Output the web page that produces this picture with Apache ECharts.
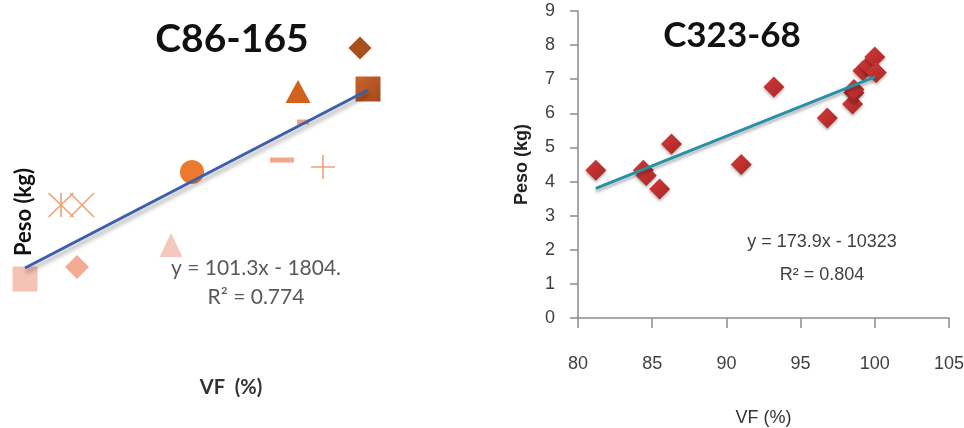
<!DOCTYPE html>
<html>
<head>
<meta charset="utf-8">
<script src="https://cdn.jsdelivr.net/npm/echarts@6/dist/echarts.min.js"></script>
<style>html,body{margin:0;padding:0;background:#fff}#c{width:964px;height:428px}</style>
</head>
<body>
<div id="c"></div>
<script>
// ---- Left panel: C86-165 (no visible axes; values in hidden-axis units) ----
var leftNames = ['a','b','c','d','e','f','g','h','i','j','k','l'];
var leftVF   = [1.5, 6.7, 5.1, 7.2, 16.1, 18.2, 27.2, 31.3, 29.3, 28.8, 35.8, 35.0];
var leftPeso = [4.1, 5.3, 11.5, 11.5, 7.5, 14.8, 16.0, 15.3, 19.8, 22.85, 23.1, 27.2];
var leftTrendVF = [1.5, 35.8];
var leftTrendPeso = [5.2, 23.0];

// ---- Right panel: C323-68 ----
var rightVF   = [81.2, 84.4, 84.6, 85.5, 86.3, 91.0, 93.2, 96.8, 98.5, 98.6, 98.6, 99.2, 99.6, 100.0, 100.1];
var rightPeso = [4.33, 4.33, 4.18, 3.78, 5.1, 4.5, 6.77, 5.86, 6.27, 6.6, 6.7, 7.25, 7.4, 7.65, 7.2];
var rightTrendVF = [81.2, 100.0];
var rightTrendPeso = [3.8, 7.07];
var rightXTicks = [80, 85, 90, 95, 100, 105];
var rightYTicks = [0, 1, 2, 3, 4, 5, 6, 7, 8, 9];

// marker styles for left panel (one per point)
function grad(c1, c2){ return new echarts.graphic.LinearGradient(0,0,1,1,[{offset:0,color:c1},{offset:1,color:c2}]); }
var leftStyles = [
  {symbol:'rect', size:25, color:'#f5c3b6'},
  {symbol:'diamond', size:24, color:'#f2aa94'},
  {symbol:'path://M0,0 L10,10 M10,0 L0,10 M5,0 L5,10', size:[25,24], stroke:'#f0a276'},
  {symbol:'path://M0,0 L10,10 M10,0 L0,10', size:[24,24], stroke:'#f0a276'},
  {symbol:'triangle', size:[23,24], color:'#f5c7bd'},
  {symbol:'circle', size:24, color:'#ec7a2e'},
  {symbol:'rect', size:[24,5], color:'#f4a68a'},
  {symbol:'path://M0,5 L10,5 M5,0 L5,10', size:[24,24], stroke:'#f2a07c'},
  {symbol:'rect', size:[12,5], color:'#f2a080'},
  {symbol:'triangle', size:[25,23], color:'#d2621b'},
  {symbol:'rect', size:25, color:grad('#c8642e','#a44a1a')},
  {symbol:'diamond', size:23, color:'#a9501c'}
];

var chart = echarts.init(document.getElementById('c'));
var series = [];
leftVF.forEach(function(v, i){
  var s = leftStyles[i];
  var it = s.stroke ? {color:'none', borderColor:s.stroke, borderWidth:1.6, opacity:1} : {color:s.color, opacity:1};
  series.push({
    type:'scatter', xAxisIndex:0, yAxisIndex:0, name:leftNames[i],
    symbol:s.symbol, symbolSize:s.size, itemStyle:it,
    data:[[v, leftPeso[i]]], z: 3, silent:true
  });
});
series.push({
  type:'line', xAxisIndex:0, yAxisIndex:0, symbol:'none', z:4,
  data: leftTrendVF.map(function(v,i){return [v, leftTrendPeso[i]];}),
  lineStyle:{color:'#3b5fab', width:3, shadowColor:'rgba(0,0,0,0.35)', shadowBlur:4, shadowOffsetX:1, shadowOffsetY:4}
});
series.push({
  type:'scatter', xAxisIndex:1, yAxisIndex:1, symbol:'diamond', symbolSize:21, z:3,
  itemStyle:{color:grad('#d43a36','#a82626'), opacity:1, shadowColor:'rgba(0,0,0,0.3)', shadowBlur:3, shadowOffsetY:2},
  data: rightVF.map(function(v,i){return [v, rightPeso[i]];})
});
series.push({
  type:'line', xAxisIndex:1, yAxisIndex:1, symbol:'none', z:4,
  data: rightTrendVF.map(function(v,i){return [v, rightTrendPeso[i]];}),
  lineStyle:{color:'#2a8fa8', width:3, shadowColor:'rgba(0,0,0,0.3)', shadowBlur:3, shadowOffsetY:3}
});

var axisGray = '#8c8c8c';
chart.setOption({
  animation:false,
  backgroundColor:'#ffffff',
  grid:[
    {left:10, top:20, width:380, height:300, outerBoundsMode:'none', containLabel:false},
    {left:578, top:11, width:371, height:307, outerBoundsMode:'none', containLabel:false}
  ],
  xAxis:[
    {type:'value', gridIndex:0, min:0, max:38, show:false},
    {type:'value', gridIndex:1, min:rightXTicks[0], max:rightXTicks[rightXTicks.length-1], interval:5,
     axisLine:{show:true, lineStyle:{color:axisGray, width:1.5}},
     axisTick:{show:true, length:10, lineStyle:{color:axisGray, width:1.5}},
     axisLabel:{margin:37, fontSize:18, color:'#404040', fontFamily:'Liberation Sans'},
     splitLine:{show:false},
     name:'VF (%)', nameLocation:'middle', nameGap:91,
     nameTextStyle:{fontSize:18, color:'#333', fontFamily:'Liberation Sans'}}
  ],
  yAxis:[
    {type:'value', gridIndex:0, min:0, max:30, show:false},
    {type:'value', gridIndex:1, min:rightYTicks[0], max:rightYTicks[rightYTicks.length-1], interval:1,
     axisLine:{show:true, lineStyle:{color:axisGray, width:1.5}},
     axisTick:{show:true, length:8, lineStyle:{color:axisGray, width:1.5}},
     axisLabel:{margin:23, fontSize:18, color:'#404040', fontFamily:'Liberation Sans'},
     splitLine:{show:false},
     name:'Peso (kg)', nameLocation:'middle', nameGap:47, nameRotate:90,
     nameTextStyle:{fontSize:18, fontWeight:'bold', color:'#222', fontFamily:'Liberation Sans'}}
  ],
  series: series,
  graphic:[
    {type:'text', x:232, y:39, style:{text:'C86-165', font:'bold 39px Lato', fill:'#111', textAlign:'center', textVerticalAlign:'middle'}},
    {type:'text', x:24, y:212, rotation:Math.PI/2, style:{text:'Peso (kg)', font:'bold 22px Lato', fill:'#111', textAlign:'center', textVerticalAlign:'middle'}},
    {type:'text', x:231, y:388, style:{text:'VF  (%)', font:'bold 20px Lato', fill:'#333', textAlign:'center', textVerticalAlign:'middle'}},
    {type:'text', x:256, y:268, style:{text:'y = 101.3x - 1804.', font:'21px Lato', fill:'#595959', textAlign:'center', textVerticalAlign:'middle'}},
    {type:'text', x:256, y:297, style:{text:'R² = 0.774', font:'21px Lato', fill:'#595959', textAlign:'center', textVerticalAlign:'middle'}},
    {type:'text', x:732, y:36, style:{text:'C323-68', font:'bold 35px Lato', fill:'#111', textAlign:'center', textVerticalAlign:'middle'}},
    {type:'text', x:822, y:242, style:{text:'y = 173.9x - 10323', font:'18px Liberation Sans', fill:'#404040', textAlign:'center', textVerticalAlign:'middle'}},
    {type:'text', x:822, y:275, style:{text:'R² = 0.804', font:'18px Liberation Sans', fill:'#404040', textAlign:'center', textVerticalAlign:'middle'}}
  ]
});
</script>
</body>
</html>
